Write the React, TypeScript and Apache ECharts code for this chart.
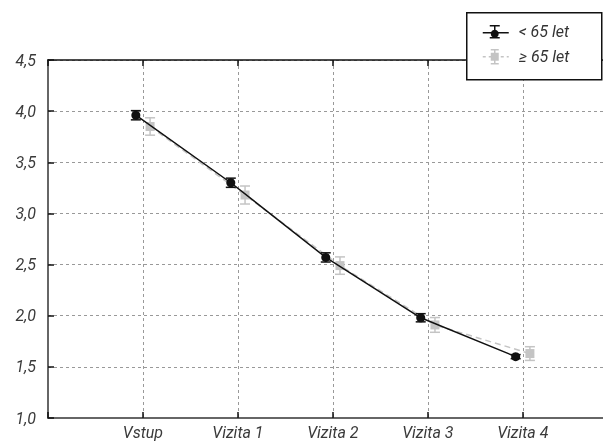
import React, { useEffect, useRef } from "react";
import * as echarts from "echarts";

const categories = ["Vstup", "Vizita 1", "Vizita 2", "Vizita 3", "Vizita 4"];
const yTicks = [1.0, 1.5, 2.0, 2.5, 3.0, 3.5, 4.0, 4.5];
const seriesNames = ["< 65 let", "≥ 65 let"];
const under65 = [3.96, 3.30, 2.57, 1.98, 1.60];
const under65Err = [0.045, 0.045, 0.045, 0.04, 0.02];
const over65 = [3.85, 3.18, 2.49, 1.91, 1.63];
const over65Err = [0.085, 0.088, 0.085, 0.072, 0.067];

const FONT = "Roboto";
const BLACK = "#111";
const GRAY = "#c4c4c4";
const OFFSET = 0.075;

function errSeries(vals: number[], errs: number[], off: number, color: string, z: number) {
  return {
    type: "custom",
    z,
    silent: true,
    data: vals.map((v, i) => [i + 1 + off, v - errs[i], v + errs[i]]),
    renderItem: (params: any, api: any) => {
      const x = api.value(0);
      const lo = api.coord([x, api.value(1)]);
      const hi = api.coord([x, api.value(2)]);
      const hw = 5;
      const st = { stroke: color, lineWidth: 1.5 };
      return {
        type: "group",
        children: [
          { type: "line", shape: { x1: lo[0], y1: lo[1], x2: hi[0], y2: hi[1] }, style: st },
          { type: "line", shape: { x1: lo[0] - hw, y1: lo[1], x2: lo[0] + hw, y2: lo[1] }, style: st },
          { type: "line", shape: { x1: hi[0] - hw, y1: hi[1], x2: hi[0] + hw, y2: hi[1] }, style: st },
        ],
      };
    },
  };
}

export default function App() {
  const ref = useRef<HTMLDivElement>(null);
  useEffect(() => {
    if (!ref.current) return;
    const chart = echarts.init(ref.current, null, { renderer: "svg" });
    const labelStyle = { fontFamily: FONT, fontStyle: "italic", fontSize: 16, color: "#3a3a3a" };
    const xCommon = {
      type: "value",
      min: 0,
      max: 5.95,
      interval: 1,
    };
    const Z = 100;
    chart.setOption({
      animation: false,
      grid: { left: 48, top: 60, width: 565, bottom: 25, outerBoundsMode: "none", containLabel: false },
      xAxis: [
        {
          ...xCommon,
          position: "bottom",
          axisLine: { show: true, lineStyle: { color: "#666", width: 2 } },
          axisTick: { show: true, inside: true, length: 6, lineStyle: { color: "#111", width: 1.5 } },
          axisLabel: {
            ...labelStyle,
            margin: 6,
            showMaxLabel: false,
            formatter: (v: number) => (Number.isInteger(v) && v >= 1 && v <= 5 ? categories[v - 1] : ""),
          },
          splitLine: { show: true, lineStyle: { color: "#999", type: [3, 3], width: 1 } },
        },
        {
          ...xCommon,
          position: "top",
          axisLine: { show: true, lineStyle: { color: "#111", width: 1.5 } },
          axisTick: { show: true, inside: true, length: 6, lineStyle: { color: "#111", width: 1.5 } },
          axisLabel: { show: false },
          splitLine: { show: false },
        },
      ],
      yAxis: {
        type: "value",
        min: yTicks[0],
        max: yTicks[yTicks.length - 1],
        interval: 0.5,
        axisLine: { show: true, lineStyle: { color: "#666", width: 2 } },
        axisTick: { show: true, inside: true, length: 6, lineStyle: { color: "#111", width: 1.5 } },
        axisLabel: {
          ...labelStyle,
          margin: 12,
          formatter: (v: number) => v.toFixed(1).replace(".", ","),
        },
        splitLine: { show: true, lineStyle: { color: "#999", type: [3, 3], width: 1 } },
      },
      series: [
        errSeries(over65, over65Err, OFFSET, GRAY, 2),
        {
          type: "line",
          name: seriesNames[1],
          z: 3,
          data: over65.map((v, i) => [i + 1 + OFFSET, v]),
          symbol: "rect",
          symbolSize: 9,
          itemStyle: { color: GRAY },
          lineStyle: { color: GRAY, width: 1.5, type: [6, 4] },
        },
        errSeries(under65, under65Err, -OFFSET, BLACK, 4),
        {
          type: "line",
          name: seriesNames[0],
          z: 5,
          data: under65.map((v, i) => [i + 1 - OFFSET, v]),
          symbol: "circle",
          symbolSize: 9,
          itemStyle: { color: BLACK },
          lineStyle: { color: BLACK, width: 1.5 },
        },
      ],
      graphic: [
        {
          type: "group",
          left: 466,
          top: 12,
          z: Z,
          children: [
            { type: "rect", z: Z, shape: { x: 0, y: 0, width: 135, height: 67 }, style: { fill: "#fff", stroke: "#111", lineWidth: 1.5 } },
            { type: "line", z: Z, shape: { x1: 16, y1: 20, x2: 42, y2: 20 }, style: { stroke: BLACK, lineWidth: 1.5 } },
            { type: "line", z: Z, shape: { x1: 28, y1: 13, x2: 28, y2: 25 }, style: { stroke: BLACK, lineWidth: 1.5 } },
            { type: "line", z: Z, shape: { x1: 23, y1: 13, x2: 33, y2: 13 }, style: { stroke: BLACK, lineWidth: 1.5 } },
            { type: "line", z: Z, shape: { x1: 23, y1: 25, x2: 33, y2: 25 }, style: { stroke: BLACK, lineWidth: 1.5 } },
            { type: "circle", z: Z, shape: { cx: 28, cy: 21, r: 4 }, style: { fill: BLACK } },
            { type: "text", z: Z, x: 52, y: 19, style: { text: seriesNames[0], fontFamily: FONT, fontStyle: "italic", fontSize: 16, fill: "#333", verticalAlign: "middle" } },
            { type: "line", z: Z, shape: { x1: 16, y1: 44, x2: 42, y2: 44 }, style: { stroke: GRAY, lineWidth: 1.5, lineDash: [3, 3] } },
            { type: "line", z: Z, shape: { x1: 28, y1: 37, x2: 28, y2: 51 }, style: { stroke: GRAY, lineWidth: 1.5 } },
            { type: "line", z: Z, shape: { x1: 24, y1: 37, x2: 32, y2: 37 }, style: { stroke: GRAY, lineWidth: 1.5 } },
            { type: "line", z: Z, shape: { x1: 24, y1: 51, x2: 32, y2: 51 }, style: { stroke: GRAY, lineWidth: 1.5 } },
            { type: "rect", z: Z, shape: { x: 24, y: 40, width: 8, height: 8 }, style: { fill: GRAY } },
            { type: "text", z: Z, x: 52, y: 44, style: { text: seriesNames[1], fontFamily: FONT, fontStyle: "italic", fontSize: 16, fill: "#333", verticalAlign: "middle" } },
          ],
        },
      ],
    });
    return () => chart.dispose();
  }, []);
  return <div ref={ref} style={{ position: "fixed", left: 0, top: 0, width: 603, height: 443 }} />;
}
